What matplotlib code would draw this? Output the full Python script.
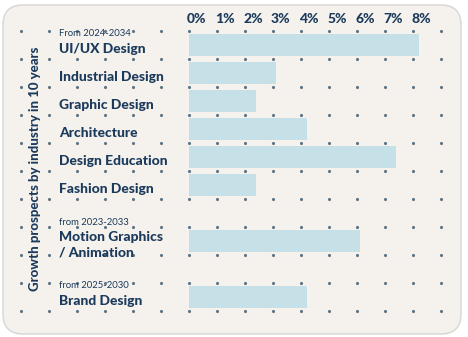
import numpy as np
import matplotlib
matplotlib.use("Agg")
from matplotlib import pyplot as plt
from matplotlib.patches import FancyBboxPatch

# data
industries = ["UI/UX Design", "Industrial Design", "Graphic Design", "Architecture",
              "Design Education", "Fashion Design", "Motion Graphics\n/ Animation", "Brand Design"]
growth = [8.2, 3.1, 2.4, 4.2, 7.4, 2.4, 6.1, 4.2]
rows = [0.5, 1.5, 2.5, 3.5, 4.5, 5.5, 7.5, 9.5]
notes = {0: "From 2024-2034", 6: "from 2023-2033", 7: "from 2025-2030"}
ticks = [0, 1, 2, 3, 4, 5, 6, 7, 8]
tick_labels = ["%d%%" % t for t in ticks]
ylabel = "Growth prospects by industry in 10 years"

NAVY = "#1b3a5c"
BAR = "#c6e0e7"
DOT = "#5b7384"
PAPER = "#f5f2ed"
FONT = ["Lato", "DejaVu Sans"]

W, H = 468, 337
fig = plt.figure(figsize=(W / 100, H / 100), dpi=100)
fig.patch.set_facecolor("white")

# paper card (display pixels)
card = FancyBboxPatch((3, H - 334), 458, 329, boxstyle="round,pad=0,rounding_size=20",
                      transform=None, facecolor=PAPER, edgecolor="#d6d6d6", linewidth=1.0,
                      zorder=-5)
fig.patches.append(card)

ax = fig.add_axes([0, 0, 1, 1])
ax.set_zorder(2)
ax.set_facecolor("none")
ax.axis("off")
# 0% sits at pixel x=189, one percent / one row = 28 px
x0, unit = 189, 28.0
y0 = 31
ax.set_xlim(-x0 / unit, (W - x0) / unit)
ax.set_ylim((H - y0) / unit, -y0 / unit)

# dot grid
gx, gy = np.meshgrid(np.arange(-6, 10), np.arange(0, 11))
ax.scatter(gx.ravel(), gy.ravel(), s=5, color=DOT, zorder=3, linewidths=0)

ax.barh(rows, growth, height=0.8, color=BAR, zorder=2)

# top tick labels
for t, lab in zip(ticks, tick_labels):
    ax.text(t - 0.07, -0.3, lab, ha="left", va="baseline", fontsize=10,
            fontweight="black", color=NAVY, family=FONT)

# category labels
lx = (59 - x0) / unit
for i, (name, r) in enumerate(zip(industries, rows)):
    lines = name.split("\n")
    first = r + 0.28 if len(lines) == 1 else r + 0.01
    for k, ln in enumerate(lines):
        ax.text(lx, first + 0.53 * k, ln, ha="left", va="baseline", fontsize=10,
                fontweight="black", color=NAVY, family=FONT)
    if i in notes:
        off = 0.56 if len(lines) > 1 else 0.32
        ax.text(lx, r - off, notes[i], ha="left", va="baseline", fontsize=6.8,
                color=NAVY, family=FONT)

ax.text((35 - x0) / unit, (169 - y0) / unit, ylabel, rotation=90, ha="center", va="center",
        fontsize=9.5, fontweight="black", color=NAVY, family=FONT)

fig.savefig("out.png", dpi=100, facecolor="white")
